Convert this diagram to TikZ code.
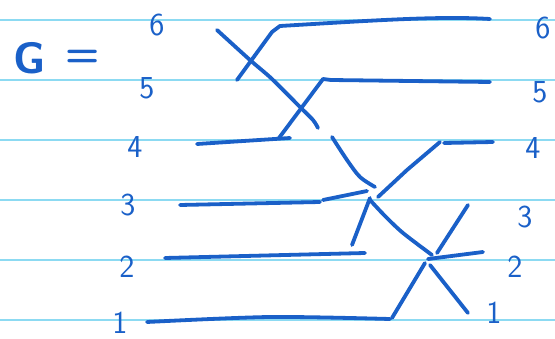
\documentclass[tikz,border=0pt]{standalone}
\usepackage{tikz}
\definecolor{penblue}{RGB}{26,96,200}
\definecolor{rulecyan}{RGB}{140,218,242}
\tikzset{
    ink/.style={draw=penblue, line width=3.8pt, line cap=round, line join=round},
    ruled/.style={draw=rulecyan, line width=1.3pt},
    digit/.style={text=penblue, inner sep=0pt,
                  font=\sffamily\fontsize{32}{32}\selectfont},
}

\begin{document}
\begin{tikzpicture}[x=1pt, y=-1pt]
    \useasboundingbox (0,0) rectangle (555,339);
    % paper
    \foreach \y in {20,80,...,320} {
        \draw[ruled] (0,\y) -- (555,\y);
    }
    % labels
    \node[digit, font=\sffamily\bfseries\fontsize{44}{44}\selectfont] (glbl) at (30,58) {G};
    \node[digit, font=\sffamily\bfseries\fontsize{40}{40}\selectfont] (eqlbl) at (83,58) {=};
    \foreach \n/\x/\y in {6/157/25, 5/147/88, 4/135/147, 3/128/205, 2/127/267, 1/120/323} {
        \node[digit] (l\n) at (\x,\y) {\n};
    }
    \foreach \n/\x/\y in {6/543/28, 5/540/92, 4/533/148, 3/525/217, 2/515/267, 1/494/313} {
        \node[digit] (r\n) at (\x,\y) {\n};
    }
    % top crossings
    \draw[ink] (237,80) -- (272,32) -- (280,26) .. controls (380,20) and (440,16) .. (490,19);
    \draw[ink] plot[smooth] coordinates {(217,30) (250,60) (272,79) (300,107) (313,120) (318,128)};
    \draw[ink] (197,144) -- (290,138);
    \draw[ink] (279,138) -- (323,79) -- (331,80) -- (490,82);
    % middle crossing
    \draw[ink] plot[smooth] coordinates {(332,137) (347,160) (360,177) (375,187)};
    \draw[ink] (378,197) -- (407,170) -- (440,142);
    \draw[ink] (444,143) -- (493,142);
    \draw[ink] (180,205) -- (320,202);
    \draw[ink] (323,200) -- (367,191);
    \draw[ink] (370,198) -- (352,245);
    \draw[ink] plot[smooth] coordinates {(370,200) (385,216) (403,233) (432,255)};
    % bottom crossing
    \draw[ink] (165,258) -- (365,253);
    \draw[ink] plot[smooth] coordinates {(147,322) (270,317) (390,319)};
    \draw[ink] (392,318) -- (425,263);
    \draw[ink] (437,253) -- (468,205);
    \draw[ink] (428,259) -- (483,252);
    \draw[ink] (430,265) -- (468,313);
\end{tikzpicture}
\end{document}
